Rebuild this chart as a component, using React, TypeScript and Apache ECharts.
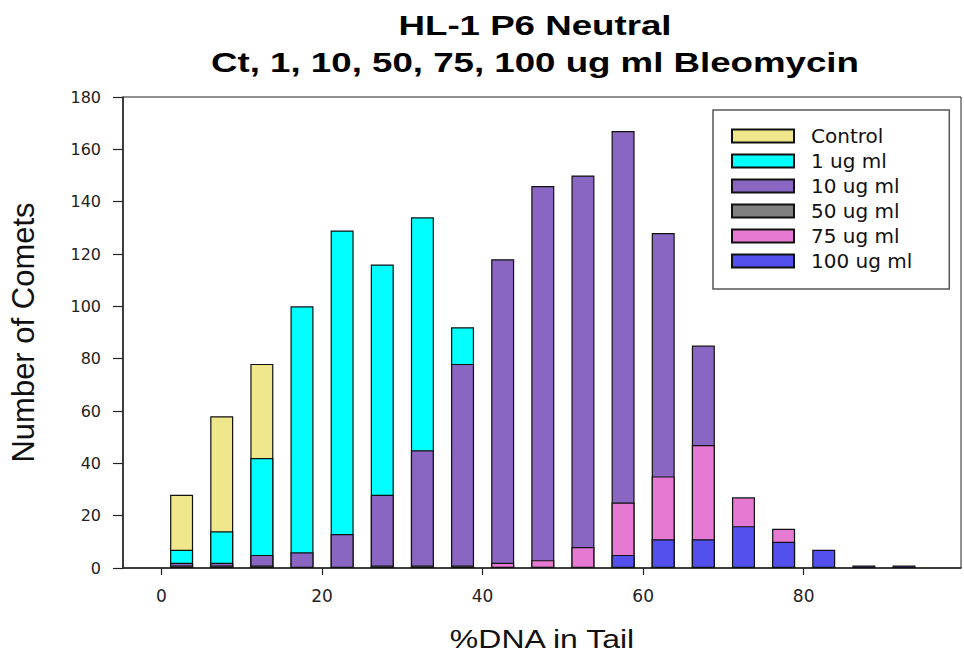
import React, { useEffect, useRef } from "react";
import * as echarts from "echarts";

// Bin centres of %DNA in tail (5-unit bins)
const binCenters = [2.5, 7.5, 12.5, 17.5, 22.5, 27.5, 32.5, 37.5, 42.5, 47.5, 52.5, 57.5, 62.5, 67.5, 72.5, 77.5, 82.5, 87.5, 92.5];

const seriesNames = ["Control", "1 ug ml", "10 ug ml", "50 ug ml", "75 ug ml", "100 ug ml"];

const control = [28, 58, 78, 0, 0, 0, 0, 0, 0, 0, 0, 0, 0, 0, 0, 0, 0, 0, 0];
const ug1 = [7, 14, 42, 100, 129, 116, 134, 92, 0, 0, 0, 0, 0, 0, 0, 0, 0, 0, 0];
const ug10 = [2, 2, 5, 6, 13, 28, 45, 78, 118, 146, 150, 167, 128, 85, 0, 0, 0, 0, 0];
const ug50 = [1, 1, 1, 0, 0, 1, 1, 1, 1, 0, 0, 0, 0, 0, 0, 0, 0, 0, 0];
const ug75 = [0, 0, 0, 0, 0, 0, 0, 0, 2, 3, 8, 25, 35, 47, 27, 15, 0, 0, 0];
const ug100 = [0, 0, 0, 0, 0, 0, 0, 0, 0, 0, 0, 5, 11, 11, 16, 10, 7, 1, 1];

const seriesValues = [control, ug1, ug10, ug50, ug75, ug100];
const seriesColors = ["#F0E68C", "#00FFFF", "#8966C2", "#808080", "#E67AD2", "#5350EE"];

const xTickValues = [0, 20, 40, 60, 80];

const titleLines = ["HL-1 P6 Neutral", "Ct, 1, 10, 50, 75, 100 ug ml Bleomycin"];
const xAxisName = "%DNA in Tail";
const yAxisName = "Number of Comets";

export default function App() {
  const ref = useRef<HTMLDivElement>(null);

  useEffect(() => {
    if (!ref.current) return;
    const chart = echarts.init(ref.current, undefined, { renderer: "svg" });

    const series = seriesNames.map((name, i) => ({
      name,
      type: "bar",
      barWidth: 23,
      barGap: "-100%",
      itemStyle: { color: seriesColors[i], borderColor: "#111", borderWidth: 1.2 },
      data: binCenters
        .map((x, j) => [x, seriesValues[i][j]])
        .filter((d) => d[1] > 0),
    }));

    const option: any = {
      animation: false,
      backgroundColor: "#ffffff",
      textStyle: { fontFamily: "Liberation Sans, Arial, sans-serif" },
      grid: {
        left: 123,
        top: 97,
        width: 838,
        height: 471,
        show: true,
        borderColor: "#222",
        borderWidth: 1,
        backgroundColor: "transparent",
      },
      legend: {
        orient: "vertical",
        left: 713,
        top: 110,
        padding: [16, 37, 18, 18],
        itemWidth: 62,
        itemHeight: 13,
        itemGap: 5,
        backgroundColor: "#ffffff",
        borderColor: "#555",
        borderWidth: 1.5,
        borderRadius: 0,
        icon: "rect",
        data: seriesNames,
        textStyle: {
          fontFamily: "DejaVu Sans, sans-serif",
          fontSize: 20,
          color: "#111",
          padding: [0, 0, 0, 12],
        },
      },
      xAxis: {
        type: "value",
        min: -4.8,
        max: 99.6,
        axisLine: { show: true, onZero: false, lineStyle: { color: "#222", width: 1.5 } },
        axisTick: {
          show: true,
          inside: false,
          length: 7,
          customValues: xTickValues,
          lineStyle: { color: "#222", width: 1.2 },
        },
        axisLabel: {
          customValues: xTickValues,
          fontFamily: "DejaVu Sans, sans-serif",
          fontSize: 17,
          color: "#222",
          margin: 19,
        },
        splitLine: { show: false },
      },
      yAxis: {
        type: "value",
        min: 0,
        max: 180,
        interval: 20,
        name: yAxisName,
        nameLocation: "middle",
        nameGap: 84,
        nameTextStyle: {
          fontFamily: "Liberation Sans, Arial, sans-serif",
          fontSize: 31,
          color: "#111",
        },
        axisLine: { show: true, onZero: false, lineStyle: { color: "#222", width: 1.5 } },
        axisTick: { show: true, inside: false, length: 10, lineStyle: { color: "#222", width: 1.2 } },
        axisLabel: {
          fontFamily: "DejaVu Sans, sans-serif",
          fontSize: 16,
          color: "#222",
          margin: 22,
        },
        splitLine: { show: false },
      },
      graphic: [
        {
          type: "text",
          x: 535,
          y: 25,
          scaleX: 1.31,
          style: {
            text: titleLines[0],
            align: "center",
            verticalAlign: "middle",
            fontFamily: "Liberation Sans, Arial, sans-serif",
            fontWeight: "bold",
            fontSize: 28,
            fill: "#000",
          },
        },
        {
          type: "text",
          x: 535,
          y: 62,
          scaleX: 1.31,
          style: {
            text: titleLines[1],
            align: "center",
            verticalAlign: "middle",
            fontFamily: "Liberation Sans, Arial, sans-serif",
            fontWeight: "bold",
            fontSize: 28,
            fill: "#000",
          },
        },
        {
          type: "text",
          x: 542,
          y: 639,
          scaleX: 1.28,
          style: {
            text: xAxisName,
            align: "center",
            verticalAlign: "middle",
            fontFamily: "Liberation Sans, Arial, sans-serif",
            fontSize: 25,
            fill: "#111",
          },
        },
      ],
      series,
    };

    chart.setOption(option);
    return () => chart.dispose();
  }, []);

  return <div ref={ref} style={{ width: 964, height: 656, position: "absolute", left: 0, top: 0 }} />;
}
